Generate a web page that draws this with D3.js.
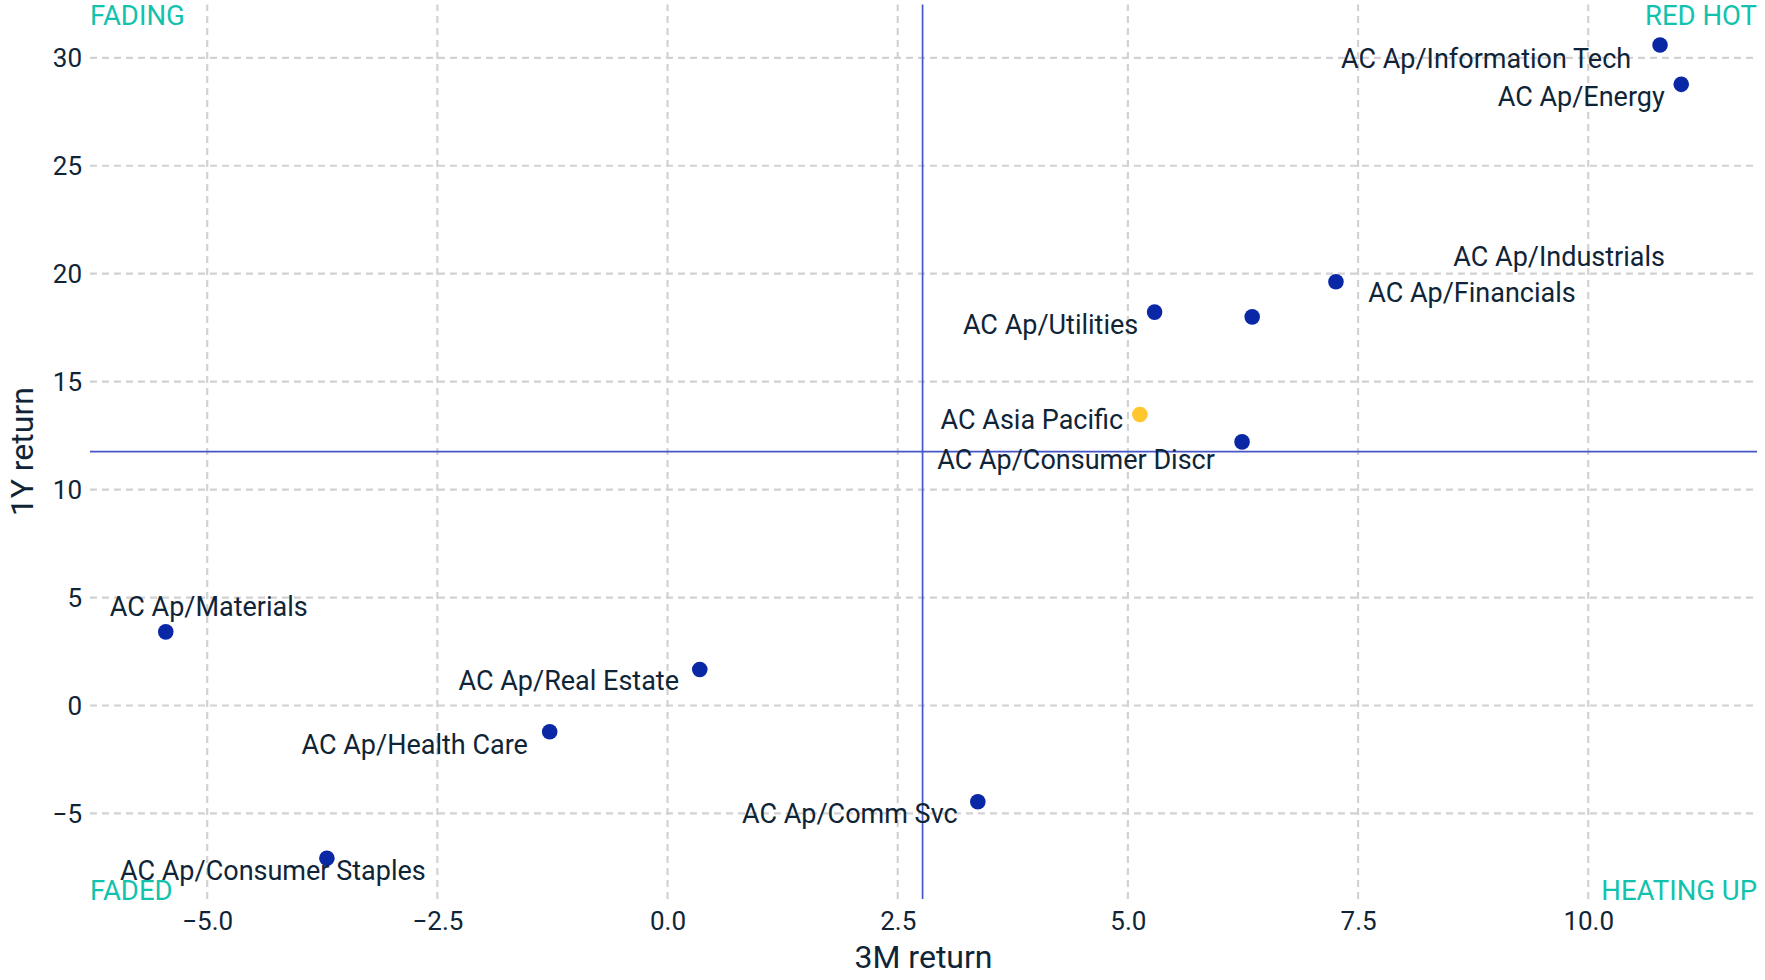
<!DOCTYPE html>
<html>
<head>
<meta charset="utf-8">
<script src="https://cdn.jsdelivr.net/npm/d3@7"></script>
<style>
  html, body { margin: 0; padding: 0; background: #fff; }
  svg { display: block; font-family: Roboto, sans-serif; }
</style>
</head>
<body>
<div id="chart"></div>
<script>
// sector data: 3M return (x) vs 1Y return (y)
const names = [
  'AC Ap/Information Tech',
  'AC Ap/Energy',
  'AC Ap/Financials',
  'AC Ap/Industrials',
  'AC Ap/Utilities',
  'AC Asia Pacific',
  'AC Ap/Consumer Discr',
  'AC Ap/Materials',
  'AC Ap/Real Estate',
  'AC Ap/Health Care',
  'AC Ap/Comm Svc',
  'AC Ap/Consumer Staples'
];
const ret3m = [10.78, 11.01, 7.26, 6.35, 5.29, 5.13, 6.24, -5.45, 0.35, -1.28, 3.37, -3.70];
const ret1y = [30.59, 28.77, 19.63, 18.00, 18.22, 13.48, 12.21, 3.41, 1.67, -1.22, -4.46, -7.08];
const benchmark = 'AC Asia Pacific';

// reference lines
const refX = 2.77;
const refY = 11.76;

const xTicks = [-5, -2.5, 0, 2.5, 5, 7.5, 10];
const yTicks = [-5, 0, 5, 10, 15, 20, 25, 30];
const quadrants = ['FADING', 'RED HOT', 'FADED', 'HEATING UP'];

// label placement (repel result), pixel offset of label centre / baseline from the point
const labelNudge = [
  [-174, 23], [-100, 22], [136, 20], [307, -51], [-104, 22], [-108, 15],
  [-166, 27], [43, -16], [-131, 21], [-135, 22], [-128, 21], [-54, 22]
];

const width = 1765;
const height = 980;
const margin = { top: 4.4, right: 8, bottom: 81, left: 90 };

const data = names.map((name, i) => ({ name, x: ret3m[i], y: ret1y[i], nudge: labelNudge[i] }));

// ggplot-like 5% expansion
const pad = (ext) => {
  const d = (ext[1] - ext[0]) * 0.05;
  return [ext[0] - d, ext[1] + d];
};

const x = d3
  .scaleLinear()
  .domain(pad(d3.extent(data, (d) => d.x)))
  .range([margin.left, width - margin.right]);
const y = d3
  .scaleLinear()
  .domain(pad(d3.extent(data, (d) => d.y)))
  .range([height - margin.bottom, margin.top]);

const textColor = '#0f2537';
const teal = '#12c2ad';
const gridColor = '#d2d2d2';
const lineColor = '#4556c6';

const svg = d3
  .create('svg')
  .attr('width', width)
  .attr('height', height)
  .attr('viewBox', [0, 0, width, height]);

// grid
const grid = svg.append('g').attr('stroke', gridColor).attr('stroke-width', 2.2).attr('stroke-dasharray', '7,5');
grid
  .selectAll('line.vx')
  .data(xTicks)
  .join('line')
  .attr('class', 'vx')
  .attr('x1', (d) => x(d))
  .attr('x2', (d) => x(d))
  .attr('y1', y.range()[0])
  .attr('y2', y.range()[1]);
grid
  .selectAll('line.hy')
  .data(yTicks)
  .join('line')
  .attr('class', 'hy')
  .attr('y1', (d) => y(d))
  .attr('y2', (d) => y(d))
  .attr('x1', x.range()[0])
  .attr('x2', x.range()[1]);

// axes (text only)
const xAxis = d3.axisBottom(x).tickValues(xTicks).tickFormat(d3.format('.1f')).tickSize(0).tickPadding(11);
const yAxis = d3.axisLeft(y).tickValues(yTicks).tickFormat(d3.format('d')).tickSize(0).tickPadding(8);

svg
  .append('g')
  .attr('transform', `translate(0,${height - margin.bottom})`)
  .call(xAxis)
  .call((g) => g.select('.domain').remove())
  .call((g) => g.selectAll('text').attr('font-size', 26).attr('fill', textColor).attr('font-family', 'Roboto').attr('dy', '0.75em'));

svg
  .append('g')
  .attr('transform', `translate(${margin.left},0)`)
  .call(yAxis)
  .call((g) => g.select('.domain').remove())
  .call((g) => g.selectAll('text').attr('font-size', 26).attr('fill', textColor).attr('font-family', 'Roboto').attr('dy', '0.35em'));

svg
  .append('text')
  .attr('x', (x.range()[0] + x.range()[1]) / 2)
  .attr('y', 968)
  .attr('text-anchor', 'middle')
  .attr('font-size', 32)
  .attr('fill', textColor)
  .text('3M return');

svg
  .append('text')
  .attr('transform', `translate(33,${(y.range()[0] + y.range()[1]) / 2}) rotate(-90)`)
  .attr('text-anchor', 'middle')
  .attr('font-size', 32)
  .attr('fill', textColor)
  .text('1Y return');

// reference lines
svg
  .append('line')
  .attr('x1', x(refX))
  .attr('x2', x(refX))
  .attr('y1', y.range()[0])
  .attr('y2', y.range()[1])
  .attr('stroke', lineColor)
  .attr('stroke-width', 1.7);
svg
  .append('line')
  .attr('y1', y(refY))
  .attr('y2', y(refY))
  .attr('x1', x.range()[0])
  .attr('x2', x.range()[1])
  .attr('stroke', lineColor)
  .attr('stroke-width', 1.7);

// points
svg
  .append('g')
  .selectAll('circle')
  .data(data)
  .join('circle')
  .attr('cx', (d) => x(d.x))
  .attr('cy', (d) => y(d.y))
  .attr('r', 7.8)
  .attr('fill', (d) => (d.name === benchmark ? '#ffc62e' : '#0a27a6'));

// labels
svg
  .append('g')
  .selectAll('text')
  .data(data)
  .join('text')
  .attr('x', (d) => x(d.x) + d.nudge[0])
  .attr('y', (d) => y(d.y) + d.nudge[1])
  .attr('text-anchor', 'middle')
  .attr('font-size', 27)
  .attr('fill', textColor)
  .text((d) => d.name);

// quadrant labels in the corners
const [x0, x1] = x.range();
const [yb, yt] = y.range();
const corners = [
  { x: x0, y: yt, anchor: 'start', dy: '0.76em' },
  { x: x1, y: yt, anchor: 'end', dy: '0.76em' },
  { x: x0, y: yb, anchor: 'start', dy: '0.05em' },
  { x: x1, y: yb, anchor: 'end', dy: '0.05em' }
];
svg
  .append('g')
  .selectAll('text')
  .data(quadrants)
  .join('text')
  .attr('x', (d, i) => corners[i].x)
  .attr('y', (d, i) => corners[i].y)
  .attr('dy', (d, i) => corners[i].dy)
  .attr('text-anchor', (d, i) => corners[i].anchor)
  .attr('font-size', 27.5)
  .attr('fill', teal)
  .text((d) => d);

document.querySelector('#chart').appendChild(svg.node());
</script>
</body>
</html>
